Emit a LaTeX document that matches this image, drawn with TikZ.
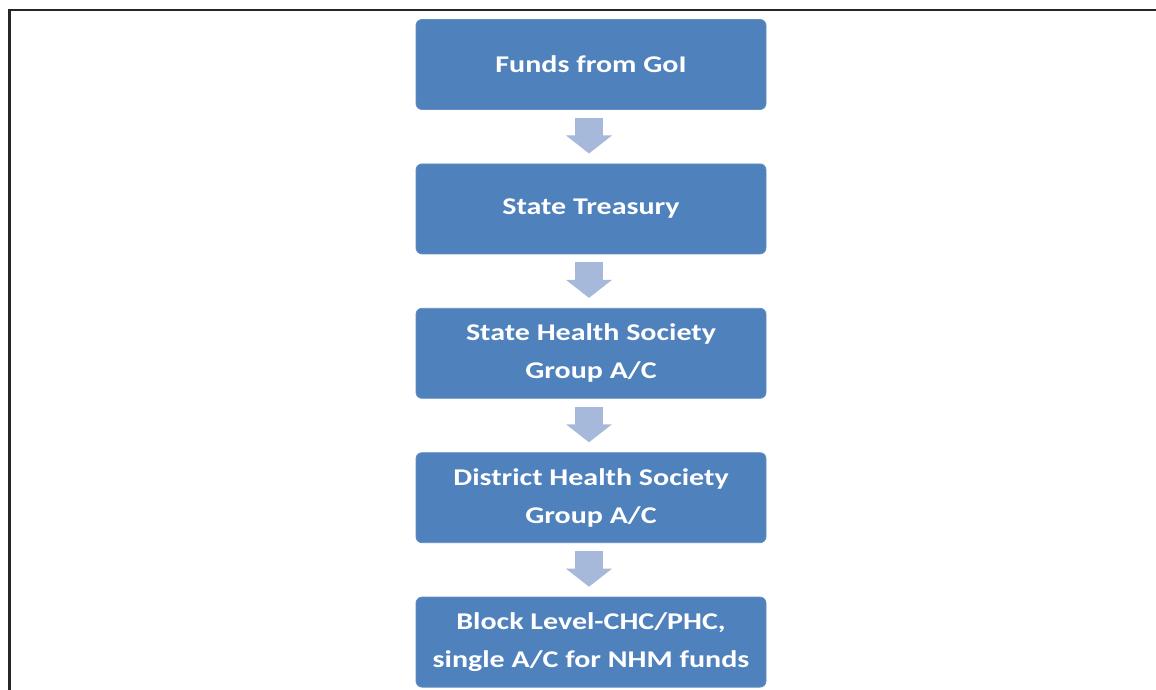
\documentclass[tikz,border=0pt]{standalone}
\usepackage{fontspec}
\setmainfont{Carlito}[FakeStretch=1.25]
\usetikzlibrary{arrows.meta}
\definecolor{boxblue}{HTML}{4F81BD}
\definecolor{arrowblue}{HTML}{A6B9DB}
\tikzset{
  stepbox/.style={fill=boxblue, draw=boxblue!90!white, line width=0.8pt, rounded corners=6pt,
    minimum width=350pt, minimum height=90pt, align=center, text=white,
    font=\fontsize{24}{38}\selectfont\bfseries, inner sep=0pt},
  flow/.style={arrowblue, line width=28pt, -{Triangle[width=45pt,length=18pt]}}
}
\begin{document}
\begin{tikzpicture}[x=1pt,y=1pt]
\useasboundingbox (0,0) rectangle (1156,-690);
\fill[white] (0,0) rectangle (1156,-690);
\coordinate (fl) at (9.5,-690);
\coordinate (ft) at (9.5,-10);
\coordinate (fr) at (1156,-10);
\draw[line width=2.2pt, black!85] (fl) -- (ft) -- (fr);
\node[stepbox] (a) at (591,-64.5) {Funds from GoI};
\node[stepbox] (b) at (591,-208.9) {State Treasury};
\node[stepbox] (c) at (591,-353.3) {State Health Society\\Group A/C};
\node[stepbox] (d) at (591,-497.7) {District Health Society\\Group A/C};
\node[stepbox] (e) at (591,-642.1) {Block Level-CHC/PHC,\\single A/C for NHM funds};
\foreach \u/\v in {a/b,b/c,c/d,d/e}{
  \draw[flow] ([xshift=-2pt,yshift=-8pt]\u.south) -- ([xshift=-2pt,yshift=10pt]\v.north);
}
\end{tikzpicture}
\end{document}
